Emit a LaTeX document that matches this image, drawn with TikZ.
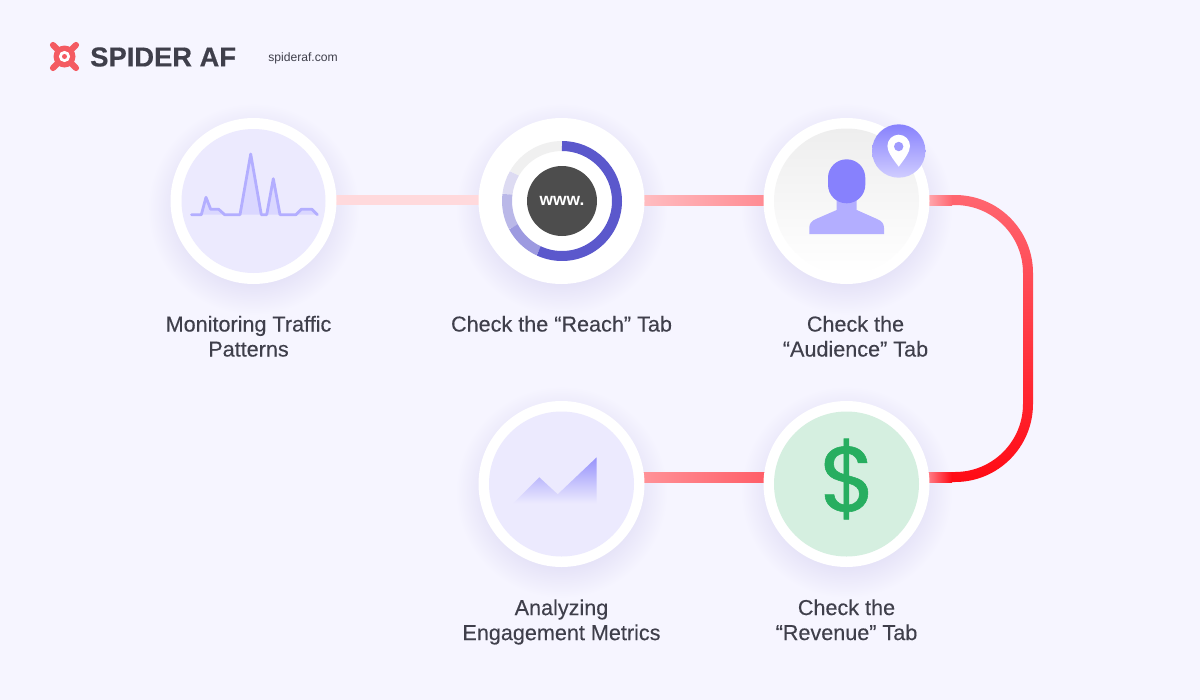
\documentclass[tikz,border=0pt]{standalone}
\usepackage{fontspec}
\setmainfont{Liberation Sans}
\newfontfamily\dollarfont[FakeBold=0.6]{Poppins}
\newfontfamily\labelfont[FakeBold=0.25]{Liberation Sans}
\newfontfamily\brandfont[FakeBold=0.5]{Liberation Sans Bold}
\usetikzlibrary{calc}
\definecolor{bgc}{HTML}{F6F5FF}
\definecolor{shc}{HTML}{E2DFF6}
\definecolor{ink}{HTML}{3F3F4B}
\definecolor{lav}{HTML}{ECEAFE}
\definecolor{peri}{HTML}{B3AEFF}
\definecolor{perid}{HTML}{8781FD}
\definecolor{logored}{HTML}{F45B62}
\definecolor{cA}{HTML}{FFD9DC}
\definecolor{cB}{HTML}{FFA0A6}
\definecolor{cBl}{HTML}{FFBCC0}
\definecolor{cBr}{HTML}{FF8A92}
\definecolor{cC}{HTML}{FF404C}
\definecolor{cCt}{HTML}{FF6670}
\definecolor{cCb}{HTML}{FF0A14}
\definecolor{cCf}{HTML}{FFB0B6}
\definecolor{cCg}{HTML}{FF8C96}
\definecolor{cD}{HTML}{FF7078}
\definecolor{cDl}{HTML}{FF9298}
\definecolor{cDr}{HTML}{FF5C66}
\definecolor{areaf}{HTML}{DAD7FF}
\definecolor{ringA}{HTML}{F0F0F0}
\definecolor{ringB}{HTML}{DDDBF2}
\definecolor{ringC}{HTML}{BAB8E8}
\definecolor{ringD}{HTML}{9D9AE0}
\definecolor{ringE}{HTML}{5B58CC}
\definecolor{darkc}{HTML}{4D4D4D}
\definecolor{greyt}{HTML}{EEEEEE}
\definecolor{badgeb}{HTML}{D0CDFF}
\definecolor{holec}{HTML}{A09BFE}
\definecolor{peakc}{HTML}{9692FB}
\definecolor{mintc}{HTML}{D5EFE0}
\definecolor{greenc}{HTML}{27AE60}
\pgfdeclarelayer{under}
\pgfsetlayers{under,main}
\pgfdeclareradialshading{softshadow}{\pgfpoint{0bp}{0bp}}{color(0bp)=(shc); color(16bp)=(shc); color(25bp)=(bgc); color(50bp)=(bgc)}
\tikzset{
  ringnode/.style={circle,fill=white,minimum size=124.5pt,inner sep=0pt,outer sep=0pt},
  softsh/.style={shading=softshadow},
  conn/.style={line width=7.5pt},
  label/.style={text=ink,align=center,font=\labelfont\fontsize{16.2}{18.75}\selectfont},
  seg/.style={line width=7.5pt},
}
\begin{document}
\begin{tikzpicture}[x=0.75pt,y=-0.75pt]
\useasboundingbox (0,0) rectangle (1200,700);

% circles
\node[ringnode] (traffic) at (253.5,201) {};
\node[ringnode] (reach) at (561.5,201) {};
\node[ringnode] (audience) at (846.5,201) {};
\node[ringnode] (metrics) at (561.5,484) {};
\node[ringnode] (revenue) at (846.5,484) {};

% free points of the connectors
\coordinate (rowA) at (0,200);
\coordinate (rowB) at (0,477);
\coordinate (turnT) at (955,200);
\coordinate (turnB) at (1028,404);

\begin{pgfonlayer}{under}
  \fill[bgc] (0,0) rectangle (1200,700);
  \foreach \n in {traffic,reach,audience,metrics,revenue}
    \shade[softsh] ($(\n)+(0,8)$) circle[radius=106];
  % connectors
  \draw[conn,color=cA] (traffic |- rowA) -- (reach |- rowA);
  \draw[conn,color=cB] (reach |- rowA) -- (audience |- rowA);
  \draw[line width=6.5pt,color=cC] (audience |- rowA) -- (turnT) arc[start angle=-90,end angle=0,radius=73] -- (turnB) arc[start angle=0,end angle=90,radius=73] -- (revenue |- rowB);
  \draw[conn,color=cD] (revenue |- rowB) -- (metrics |- rowB);
  \shade[left color=cBl,right color=cBr] (644,195) rectangle (768,205);
  \shade[left color=cDl,right color=cDr] (642,472) rectangle (768,482);
  \shade[top color=cCt,bottom color=cCb]
    (925,195) -- (955,195) arc[start angle=-90,end angle=0,radius=78] -- (1033,404)
    arc[start angle=0,end angle=90,radius=78] -- (925,482) -- (925,472) -- (955,472)
    arc[start angle=90,end angle=0,radius=68] -- (1023,273)
    arc[start angle=0,end angle=-90,radius=68] -- (925,205) -- cycle;
  \shade[left color=cCf,right color=cCt] (925,195) rectangle (952,205);
  \shade[left color=cCg,right color=cCb] (925,472) rectangle (952,482);
\end{pgfonlayer}

% traffic icon
\fill[lav] (253.5,201) circle[radius=72];
\fill[areaf] (190.7,214.7) -- (201.3,214.7) -- (206,197.3) -- (210.7,209.3) -- (218.7,209.3) -- (224.7,214.7) -- (240,214.7) -- (250.7,154) -- (261.3,214.7) -- (266.7,214.7) -- (273.3,178.7) -- (280,214.7) -- (296,214.7) -- (301.3,209.3) -- (312,209.3) -- (317.3,214.7) -- cycle;
\draw[peri,line width=2.1pt,line join=round,line cap=round] (191.5,214.7) -- (201.3,214.7) -- (206,197.3) -- (210.7,209.3) -- (218.7,209.3) -- (224.7,214.7) -- (240,214.7) -- (250.7,154) -- (261.3,214.7) -- (266.7,214.7) -- (273.3,178.7) -- (280,214.7) -- (296,214.7) -- (301.3,209.3) -- (312,209.3) -- (317.3,214.7);

% reach icon
\draw[seg,color=ringA] (562,201) ++(-150:55) arc[start angle=-150,end angle=-90,radius=55];
\draw[seg,color=ringB] (562,201) ++(-173:55) arc[start angle=-173,end angle=-150,radius=55];
\draw[seg,color=ringC] (562,201) ++(-208:55) arc[start angle=-208,end angle=-173,radius=55];
\draw[seg,color=ringD] (562,201) ++(-245:55) arc[start angle=-245,end angle=-208,radius=55];
\draw[seg,color=ringE] (562,201) ++(-90:55) arc[start angle=-90,end angle=115,radius=55];
\node[circle,fill=darkc,minimum size=52.5pt,inner sep=0pt,text=white,font=\bfseries\fontsize{13}{13}\selectfont] (www) at (562,201) {www.};

% audience icon
\shade[top color=greyt,bottom color=white] (846.5,201) circle[radius=72.5];
\fill[peri] (836.7,190) -- (836.7,210) -- (816,219) .. controls (811,221) and (809.3,224) .. (809.3,228) -- (809.3,234) -- (884,234) -- (884,228) .. controls (884,224) and (882,221) .. (877,219) -- (856.7,210) -- (856.7,190) -- cycle;
\fill[perid,rounded corners=13.9pt] (828,159.3) rectangle (865.3,203.3);
\shade[top color=perid,bottom color=badgeb] (898.7,151) circle[radius=26.7];
\fill[white] (898.7,166.7) .. controls (893,159) and (887.4,152) .. (887.4,146) arc[start angle=-180,end angle=0,radius=11.3] .. controls (910,152) and (904.4,159) .. (898.7,166.7) -- cycle;
\fill[holec] (898.7,146.5) circle[radius=4.7];

% metrics icon
\fill[lav] (561.5,484) circle[radius=72.5];
\shade[top color=peakc,bottom color=lav] (513.3,503.3) -- (539.3,477.3) -- (557.7,494.3) -- (596.7,457.3) -- (596.7,503.3) -- cycle;

% revenue icon
\fill[mintc] (846.5,484) circle[radius=72.5];
\node[text=greenc,font=\dollarfont\fontsize{69}{69}\selectfont,inner sep=0pt] (dollar) at (848,479) {\$};

% labels
\node[label] (ltraffic) at (248.5,336.3) {Monitoring Traffic\\Patterns};
\node[label] (lreach) at (561.5,323.8) {Check the “Reach” Tab};
\node[label] (laudience) at (855.5,336.3) {Check the\\“Audience” Tab};
\node[label] (lmetrics) at (561.5,622) {Analyzing\\Engagement Metrics};
\node[label] (lrevenue) at (846.5,619.8) {Check the\\“Revenue” Tab};

% logo
\draw[logored,line width=4.6pt,line cap=round] (53,45) -- (76,68);
\draw[logored,line width=4.6pt,line cap=round] (76,45) -- (53,68);
\fill[logored] (64.5,56.5) circle[radius=11];
\fill[white] (64.5,56.5) circle[radius=5.6];
\fill[logored] (64.5,56.5) circle[radius=2.5];
\node[text=ink,font=\brandfont\fontsize{20.5}{20.5}\selectfont,anchor=west,inner sep=0pt] (brand) at (90,57) {SPIDER AF};
\node[text=ink,font=\fontsize{9.1}{9.1}\selectfont,anchor=west,inner sep=0pt] (site) at (268,58) {spideraf.com};
\end{tikzpicture}
\end{document}
